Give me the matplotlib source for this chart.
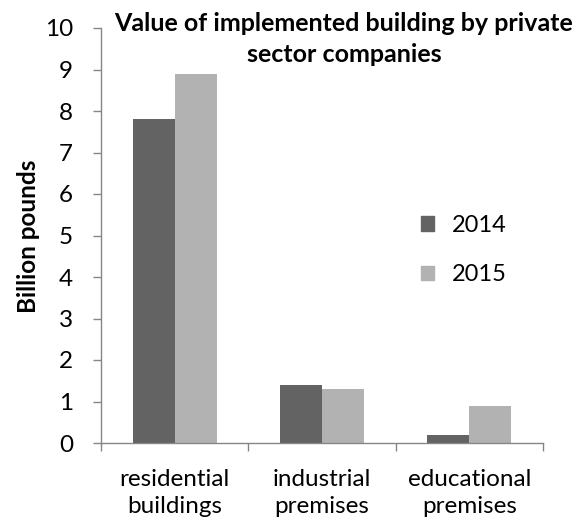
import matplotlib
matplotlib.use("Agg")
import matplotlib.pyplot as plt
import numpy as np
from matplotlib.patches import Patch

categories = ["residential\nbuildings", "industrial\npremises", "educational\npremises"]
series_names = ["2014", "2015"]
values_2014 = [7.8, 1.4, 0.2]
values_2015 = [8.9, 1.3, 0.9]
colors = ["#636363", "#b2b2b2"]

plt.rcParams['font.family'] = ['Lato', 'DejaVu Sans']

fig = plt.figure(figsize=(5.86, 5.22), dpi=100)
ax = fig.add_axes([101/586, 1-443/522, (543-101)/586, (443-28)/522])

x = np.arange(len(categories))
w = 0.285
ax.bar(x - w/2, values_2014, w, color=colors[0], label=series_names[0])
ax.bar(x + w/2, values_2015, w, color=colors[1], label=series_names[1])

ax.set_xlim(-0.5, len(categories) - 0.5)
ax.set_ylim(0, 10)
ax.set_yticks(range(0, 11))
ax.set_xticks(x)
ax.set_xticklabels(categories, fontsize=17.5, linespacing=1.32)
ax.set_xticks(np.arange(-0.5, len(categories)), minor=True)
ax.tick_params(axis='x', which='major', length=0, pad=19)
ax.tick_params(axis='x', which='minor', length=6, color='#868686', width=1)
ax.tick_params(axis='y', labelsize=17.5, length=6, color='#868686', width=1, pad=14)

for s in ['top', 'right']:
    ax.spines[s].set_visible(False)
for s in ['left', 'bottom']:
    ax.spines[s].set_color('#868686')
    ax.spines[s].set_linewidth(1)

fig.text(28/586, 1-236/522, "Billion pounds", rotation=90, ha='center', va='center',
         fontsize=17.5, fontweight='bold')

fig.text(344/586, 1-39/522, "Value of implemented building by private\nsector companies",
         ha='center', va='center', fontsize=18, fontweight='bold', linespacing=1.4)

handles = [Patch(color=colors[0]), Patch(color=colors[1])]
fig.legend(handles, series_names, loc='center left', bbox_to_anchor=(400/586, 1-250/522),
           frameon=False, fontsize=17, handlelength=0.55, handleheight=0.55,
           handletextpad=0.75, labelspacing=1.2)

fig.savefig("out.png", dpi=100)
